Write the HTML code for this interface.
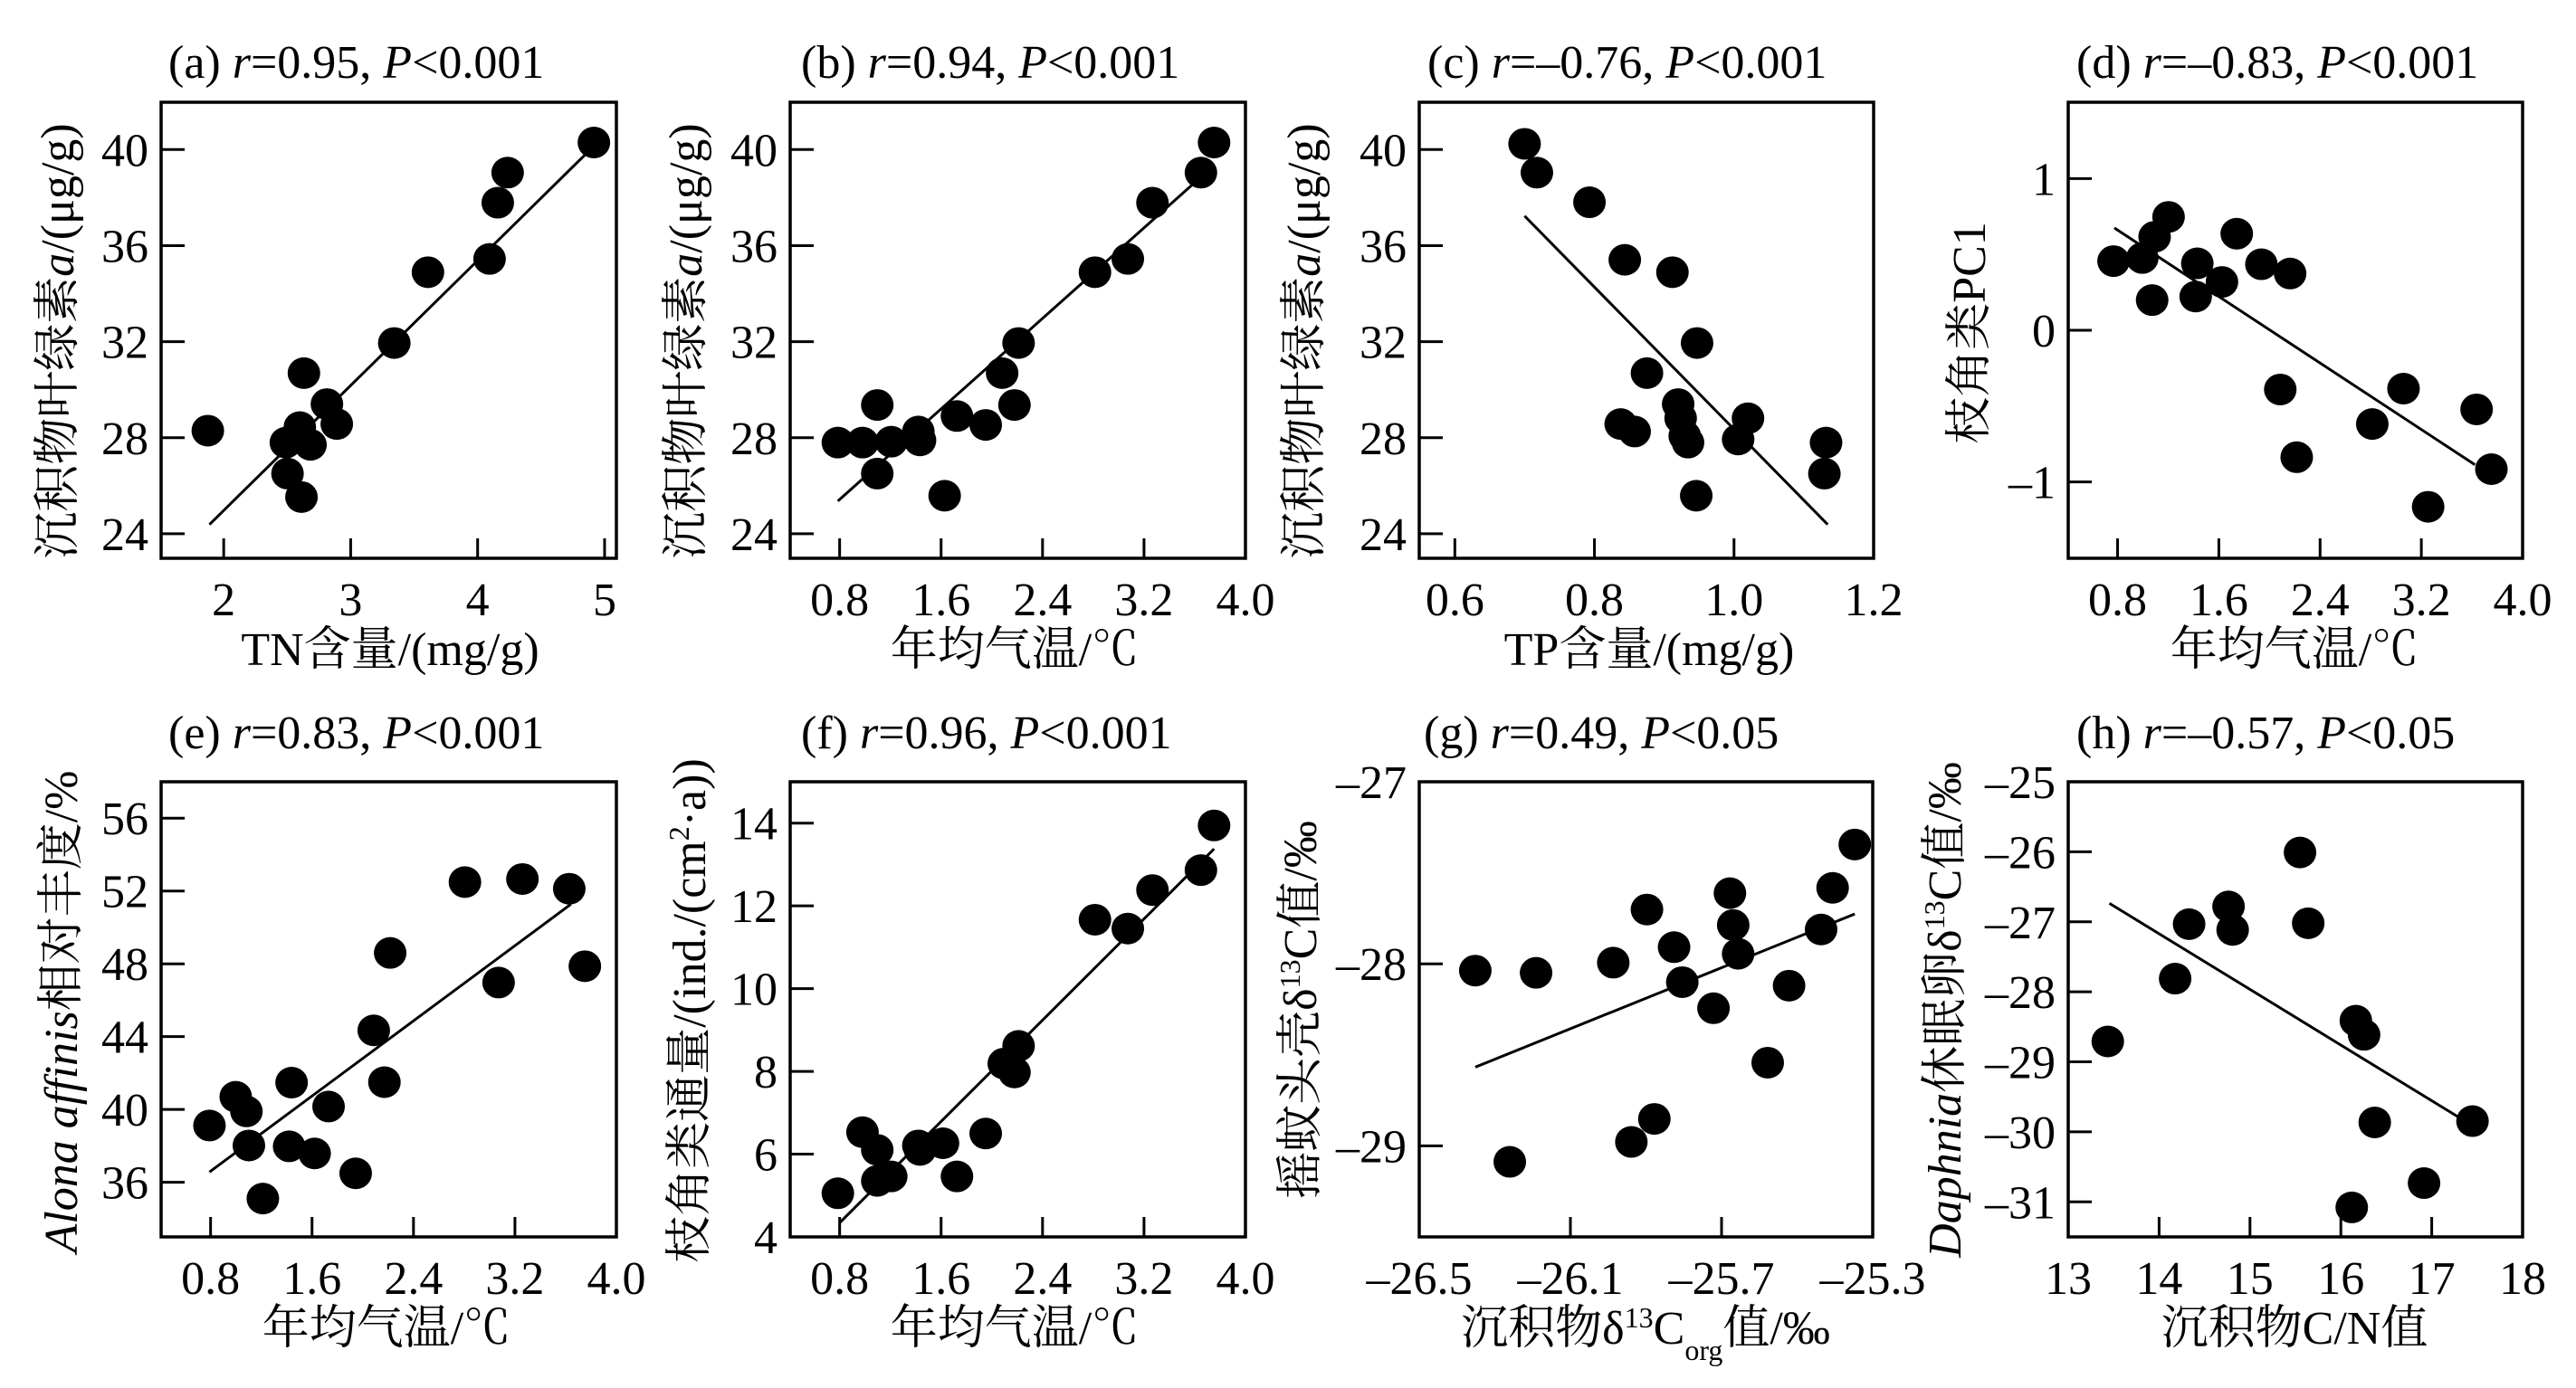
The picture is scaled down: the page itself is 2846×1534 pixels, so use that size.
<!DOCTYPE html>
<html><head><meta charset="utf-8">
<style>
html,body{margin:0;padding:0;background:#fff;}
svg{display:block;}
svg text{font-family:"Liberation Serif","Times New Roman","Noto Serif CJK SC","Noto Serif CJK JP",serif !important;fill:#000;}
</style></head>
<body>
<svg id="s" xmlns="http://www.w3.org/2000/svg" width="2846" height="1534" viewBox="0 0 2846 1534" font-family="Liberation Serif, Noto Serif CJK SC, serif"></svg>
<script>
const S=document.getElementById('s');
const NS='http://www.w3.org/2000/svg';
const FF='"Liberation Serif","Noto Serif CJK SC",serif';
function el(t,a,txt){const e=document.createElementNS(NS,t);for(const k in a)e.setAttribute(k,a[k]);if(t==='text'){e.setAttribute('font-family',FF);e.style.fontFamily=FF;}if(txt!==undefined)e.innerHTML=txt;S.appendChild(e);return e;}
const SX=1568/1423, SY=1568/767;
const panels=[
 {q:[0,0],box:[178,113,681,617],xr:[1.507,5.093],yr:[22.98,41.97],xt:[2,3,4,5],yt:[24,28,32,36,40],
  pts:[[253,973],[348,1000],[350,1070],[367,1123],[370,843],[365,965],[378,1005],[398,913],[410,958],[480,775],[521,615],[596,585],[606,458],[618,390],[723,322]],
  line:[[255,1185],[723,330]],title:'(a) <tspan font-style="italic">r</tspan>=0.95, <tspan font-style="italic">P</tspan>&lt;0.001',tx:186,ty:68,
  xl:'TN含量/(mg/g)',xlx:431,yl:'沉积物叶绿素<tspan font-style="italic">a</tspan>/(μg/g)',ylx:64,yly:377},
 {q:[0,0],box:[873,113,1376,617],xr:[0.41,4.0],yr:[22.98,41.97],xt:[0.8,1.6,2.4,3.2,4.0],yt:[24,28,32,36,40],
  pts:[[1020,1000],[1050,1000],[1068,915],[1068,1070],[1085,998],[1118,975],[1120,995],[1150,1120],[1165,940],[1200,960],[1220,843],[1235,915],[1240,775],[1333,615],[1373,585],[1403,458],[1462,390],[1478,322]],
  line:[[1020,1132],[1462,400]],title:'(b) <tspan font-style="italic">r</tspan>=0.94, <tspan font-style="italic">P</tspan>&lt;0.001',tx:885,ty:68,
  xl:'年均气温/℃',xlx:1121,yl:'沉积物叶绿素<tspan font-style="italic">a</tspan>/(μg/g)',ylx:758,yly:377},
 {q:[1423,0],box:[1568,113,2070,617],xr:[0.549,1.2],yr:[22.98,41.97],xt:[0.6,0.8,1.0,1.2],yt:[24,28,32,36,40],
  pts:[[288,325],[303,390],[367,457],[410,587],[468,615],[498,775],[437,843],[475,913],[478,945],[405,958],[422,975],[483,985],[487,1000],[548,993],[560,945],[655,1000],[653,1070],[497,1120]],
  line:[[288,488],[657,1185]],title:'(c) <tspan font-style="italic">r</tspan>=–0.76, <tspan font-style="italic">P</tspan>&lt;0.001',tx:1577,ty:68,
  xl:'TP含量/(mg/g)',xlx:1822,yl:'沉积物叶绿素<tspan font-style="italic">a</tspan>/(μg/g)',ylx:1441,yly:377},
 {q:[1423,0],box:[2285,113,2787,617],xr:[0.41,4.0],yr:[-1.503,1.503],xt:[0.8,1.6,2.4,3.2,4.0],yt:[-1,0,1],
  pts:[[1005,590],[1040,583],[1055,535],[1072,490],[1052,678],[1107,595],[1105,670],[1137,637],[1155,528],[1185,597],[1220,618],[1208,880],[1228,1033],[1320,958],[1358,878],[1388,1145],[1447,925],[1465,1060]],
  line:[[1006,515],[1445,1050]],title:'(d) <tspan font-style="italic">r</tspan>=–0.83, <tspan font-style="italic">P</tspan>&lt;0.001',tx:2294,ty:68,
  xl:'年均气温/℃',xlx:2535,yl:'枝角类PC1',ylx:2176,yly:368},
 {q:[0,767],box:[178,864,681,1367],xr:[0.41,4.0],yr:[33,58],xt:[0.8,1.6,2.4,3.2,4.0],yt:[36,40,44,48,52,56],
  pts:[[255,975],[287,910],[300,943],[303,1020],[352,1022],[355,878],[383,1038],[400,932],[433,1083],[320,1140],[455,760],[468,877],[475,585],[566,425],[607,652],[636,418],[693,440],[712,615]],
  line:[[255,1080],[695,475]],title:'(e) <tspan font-style="italic">r</tspan>=0.83, <tspan font-style="italic">P</tspan>&lt;0.001',tx:186,ty:809,
  xl:'年均气温/℃',xlx:427,yl:'<tspan font-style="italic">Alona affinis</tspan>相对丰度/%',ylx:68,yly:1118},
 {q:[0,767],box:[873,864,1376,1367],xr:[0.41,4.0],yr:[4,15],xt:[0.8,1.6,2.4,3.2,4.0],yt:[4,6,8,10,12,14],
  pts:[[1020,1128],[1050,990],[1068,1030],[1068,1100],[1085,1090],[1118,1020],[1120,1030],[1148,1015],[1165,1090],[1200,993],[1222,835],[1235,855],[1240,795],[1333,510],[1373,530],[1403,443],[1462,398],[1478,297]],
  line:[[1022,1195],[1478,350]],title:'(f) <tspan font-style="italic">r</tspan>=0.96, <tspan font-style="italic">P</tspan>&lt;0.001',tx:885,ty:809,
  xl:'年均气温/℃',xlx:1121,yl:'枝角类通量/(ind./(cm<tspan font-size="32" baseline-shift="super">2</tspan>·a))',ylx:762,yly:1117},
 {q:[1423,767],box:[1568,864,2069,1367],xr:[-26.5,-25.3],yr:[-29.5,-27],xt:[-26.5,-26.1,-25.7,-25.3],yt:[-29,-28,-27],
  pts:[[228,625],[302,630],[270,1057],[396,607],[437,487],[470,572],[480,651],[418,1012],[446,960],[518,710],[538,450],[542,522],[548,587],[584,833],[610,659],[649,532],[663,438],[690,340]],
  line:[[228,843],[690,497]],title:'(g) <tspan font-style="italic">r</tspan>=0.49, <tspan font-style="italic">P</tspan>&lt;0.05',tx:1573,ty:809,
  xl:'沉积物δ<tspan font-size="32" baseline-shift="super">13</tspan>C<tspan font-size="32" baseline-shift="sub">org</tspan>值/‰',xlx:1818,yl:'摇蚊头壳δ<tspan font-size="32" baseline-shift="super">13</tspan>C值/‰',ylx:1437,yly:1116},
 {q:[1423,767],box:[2285,864,2787,1367],xr:[13,18],yr:[-31.5,-25],xt:[13,14,15,16,17,18],yt:[-31,-30,-29,-28,-27,-26,-25],
  pts:[[998,785],[1080,643],[1097,520],[1145,480],[1150,533],[1232,358],[1242,518],[1300,738],[1310,770],[1323,968],[1295,1160],[1383,1105],[1442,965]],
  line:[[1000,473],[1425,956]],title:'(h) <tspan font-style="italic">r</tspan>=–0.57, <tspan font-style="italic">P</tspan>&lt;0.05',tx:2294,ty:809,
  xl:'沉积物C/N值',xlx:2535,yl:'<tspan font-style="italic">Daphnia</tspan>休眠卵δ<tspan font-size="32" baseline-shift="super">13</tspan>C值/‰',ylx:2149,yly:1116}
];
function fmt(v,step){let s=(Math.abs(step-Math.round(step))<1e-9)?String(Math.round(v)):v.toFixed(1);return s.replace('-','–');}
for(const p of panels){
 const [x0,y0,x1,y1]=p.box;
 const mx=v=>x0+(v-p.xr[0])/(p.xr[1]-p.xr[0])*(x1-x0);
 const my=v=>y1-(v-p.yr[0])/(p.yr[1]-p.yr[0])*(y1-y0);
 const zx=z=>p.q[0]+z/SX, zy=z=>p.q[1]+z/SY;
 el('rect',{x:x0,y:y0,width:x1-x0,height:y1-y0,fill:'none',stroke:'#000','stroke-width':3.5});
 const xs=p.xt.length>1?p.xt[1]-p.xt[0]:1, ys=p.yt.length>1?p.yt[1]-p.yt[0]:1;
 for(const t of p.xt){const X=mx(t);el('line',{x1:X,y1:y1,x2:X,y2:y1-22,stroke:'#000','stroke-width':3});
  el('text',{x:X,y:y1+63,'font-size':52,'text-anchor':'middle'},fmt(t,xs));}
 for(const t of p.yt){const Y=my(t);el('line',{x1:x0,y1:Y,x2:x0+26,y2:Y,stroke:'#000','stroke-width':3});
  el('text',{x:x0-14,y:Y+18,'font-size':52,'text-anchor':'end'},fmt(t,ys));}
 el('line',{x1:zx(p.line[0][0]),y1:zy(p.line[0][1]),x2:zx(p.line[1][0]),y2:zy(p.line[1][1]),stroke:'#000','stroke-width':3});
 for(const q of p.pts)el('ellipse',{cx:zx(q[0]),cy:zy(q[1]),rx:18,ry:17.5,fill:'#000'});
 el('text',{x:p.tx,y:p.ty+18,'font-size':52},p.title);
 el('text',{x:p.xlx,y:y1+118,'font-size':52,'text-anchor':'middle'},p.xl);
 el('text',{x:0,y:0,'font-size':52,'text-anchor':'middle',transform:`translate(${p.ylx+17},${p.yly}) rotate(-90)`},p.yl);
}
</script>
</body></html>
